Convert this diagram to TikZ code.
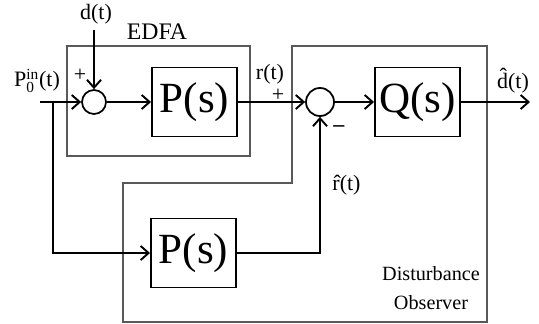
\documentclass[tikz,border=0pt]{standalone}
\usepackage{amsmath}
\usepackage{fontspec}
\setmainfont{Liberation Serif}
\usetikzlibrary{positioning,arrows.meta}

\begin{document}
\begin{tikzpicture}[
    every node/.style={font=\fontsize{12.5}{14}\selectfont},
    block/.style={draw, line width=1.1pt, minimum width=1.70cm, minimum height=1.38cm, inner sep=0pt, font=\fontsize{24.5}{26}\selectfont},
    sumnode/.style={draw, circle, line width=1pt, inner sep=0pt},
    frame/.style={line width=0.6pt, gray!70!black},
    sig/.style={line width=1.1pt, -{Straight Barb[length=4.5pt,width=8pt]}},
    wire/.style={line width=1.1pt}
]
    \useasboundingbox (0,0) rectangle (10.78,6.46);

    % Rahmen
    \draw[frame] (1.34,3.34) rectangle (5.00,5.54);
    \draw[frame] (5.84,5.54) -- (9.74,5.54) -- (9.74,0.02) -- (2.46,0.02)
        -- (2.46,2.80) -- (5.84,2.80) -- cycle;
    \node[font=\fontsize{13.5}{15}\selectfont] (edfa) at (3.14,5.82) {EDFA};
    \node[align=center, font=\fontsize{11.5}{16.5}\selectfont] (dob) at (8.62,0.70) {Disturbance\\Observer};

    % Bloecke
    \node[sumnode, minimum size=0.48cm] (sum1) at (1.88,4.42) {};
    \node[block] (plant1) at (3.89,4.42) {P(s)};
    \node[sumnode, minimum size=0.56cm] (sum2) at (6.40,4.42) {};
    \node[block] (qblock) at (8.35,4.42) {Q(s)};
    \node[block] (plant2) at (3.87,1.40) {P(s)};

    % Beschriftungen
    \node (dlabel) at (1.92,6.18) {d(t)};
    \node (plabel) at (0.74,4.84) {P$^{\text{in}}_{\text{0}}$(t)};
    \node (rlabel) at (5.40,4.98) {r(t)};
    \node (dhat) at (10.26,4.84) {\^{d}(t)};
    \node (rhat) at (6.93,2.76) {\^{r}(t)};
    \node (plus1) at (1.60,4.96) {+};
    \node (plus2) at (5.56,4.56) {+};
    \node (minus) at (6.78,3.88) {\textbf{--}};

    \coordinate (in) at (0.80,4.42);
    \coordinate (branch) at (1.06,4.42);
    \coordinate (out) at (10.60,4.42);

    % Verbindungen
    \draw[sig] (in) -- (sum1);
    \draw[sig] (dlabel.south -| sum1) -- (sum1);
    \draw[sig] (sum1) -- (plant1);
    \draw[sig] (plant1) -- (sum2);
    \draw[sig] (sum2) -- (qblock);
    \draw[sig] (qblock) -- (out);
    \draw[sig] (branch) |- (plant2);
    \draw[sig] (plant2) -| (sum2);

\end{tikzpicture}
\end{document}
